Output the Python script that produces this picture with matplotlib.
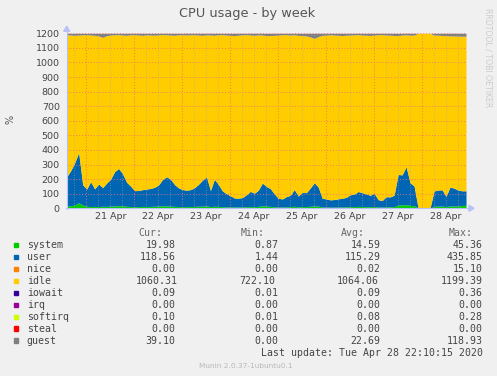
import numpy as np
import pandas as pd
import matplotlib
matplotlib.use("Agg")
import matplotlib.pyplot as plt
from matplotlib.patches import Rectangle, Polygon

# ---------------- data ----------------
start_time = "2020-04-20 14:10"
step = "2h"
TOTAL = 1200  # 12 cores x 100 %

user = [200, 240, 290, 345, 140, 118, 170, 120, 155, 128,
        160, 185, 235, 255, 220, 165, 140, 110, 110, 115,
        120, 123, 130, 145, 180, 200, 185, 150, 128, 118,
        112, 116, 128, 150, 178, 200, 110, 185, 150, 108,
        90, 76, 62, 60, 64, 82, 104, 92, 112, 155,
        135, 122, 88, 60, 55, 70, 78, 115, 74, 98,
        95, 125, 160, 130, 60, 55, 50, 52, 56, 60,
        65, 82, 85, 102, 95, 88, 78, 92, 50, 45,
        70, 68, 78, 210, 205, 260, 155, 135, 2, 2,
        2, 2, 105, 110, 112, 70, 130, 122, 110, 100]

system = [16, 18, 22, 38, 22, 14, 12, 13, 12, 14,
          13, 15, 16, 18, 17, 14, 12, 11, 12, 13,
          12, 13, 14, 15, 18, 16, 15, 13, 12, 11,
          12, 12, 13, 14, 15, 16, 12, 14, 13, 11,
          10, 10, 9, 9, 10, 11, 12, 11, 13, 18,
          15, 13, 11, 9, 9, 10, 11, 14, 10, 12,
          12, 14, 16, 15, 9, 9, 8, 8, 9, 9,
          10, 11, 12, 13, 12, 11, 11, 12, 9, 8,
          10, 10, 12, 22, 24, 25, 20, 18, 1, 1,
          1, 1, 14, 15, 15, 12, 16, 16, 15, 20]

guest = [10, 12, 14, 12, 10, 9, 12, 14, 18, 28,
         16, 12, 10, 9, 12, 14, 10, 9, 12, 14,
         10, 12, 13, 10, 9, 10, 12, 14, 10, 9,
         12, 10, 9, 12, 14, 10, 12, 13, 10, 9,
         12, 14, 16, 13, 10, 9, 12, 14, 10, 12,
         16, 15, 14, 12, 10, 9, 12, 10, 14, 16,
         18, 25, 35, 22, 14, 12, 10, 12, 14, 16,
         13, 12, 10, 9, 12, 13, 15, 12, 10, 9,
         12, 13, 15, 16, 12, 10, 13, 12, 0, 0,
         0, 0, 12, 13, 15, 16, 17, 18, 19, 20]

day_labels = ["21 Apr", "22 Apr", "23 Apr", "24 Apr", "25 Apr", "26 Apr", "27 Apr", "28 Apr"]
day_dates = ["2020-04-21", "2020-04-22", "2020-04-23", "2020-04-24",
             "2020-04-25", "2020-04-26", "2020-04-27", "2020-04-28"]

names = ["system", "user", "nice", "idle", "iowait", "irq", "softirq", "steal", "guest"]
colors = ["#00CC00", "#0066B3", "#FF8000", "#FFCC00", "#330099", "#990099", "#CCFF00", "#FF0000", "#808080"]
cur_vals = [19.98, 118.56, 0.00, 1060.31, 0.09, 0.00, 0.10, 0.00, 39.10]
min_vals = [0.87, 1.44, 0.00, 722.10, 0.01, 0.00, 0.01, 0.00, 0.00]
avg_vals = [14.59, 115.29, 0.02, 1064.06, 0.09, 0.00, 0.08, 0.00, 22.69]
max_vals = [45.36, 435.85, 15.10, 1199.39, 0.36, 0.00, 0.28, 0.00, 118.93]

title = "CPU usage - by week"
last_update = "Last update: Tue Apr 28 22:10:15 2020"
version = "Munin 2.0.37-1ubuntu0.1"

# ---------------- figure ----------------
W, H = 497, 376
BG = "#F0F0F0"
fig = plt.figure(figsize=(W / 100, H / 100), dpi=100, facecolor=BG)


def fx(x):
    return x / W


def fy(y):
    return 1 - y / H


ax_l, ax_r, ax_b, ax_t = 66.7, 466.0, 208.3, 33.3
ax = fig.add_axes([fx(ax_l), fy(ax_b), (ax_r - ax_l) / W, (ax_b - ax_t) / H])
ax.set_facecolor(BG)
for s in ax.spines.values():
    s.set_visible(False)

times = pd.date_range(start_time, periods=len(user), freq=step)
edges = times.append(pd.DatetimeIndex([times[-1] + pd.Timedelta(step)])).to_pydatetime()

u = np.array(user, float)
sy = np.array(system, float)
g = np.array(guest, float)
idle = TOTAL - u - sy - g

layers = [(sy, colors[0]), (u, colors[1]), (idle, colors[3]), (g, colors[8])]
base = np.zeros(len(u))
for vals, col in layers:
    top = base + vals
    ax.fill_between(edges, np.append(base, base[-1]), np.append(top, top[-1]),
                    color=col, lw=0, zorder=2)
    base = top

ax.set_xlim(edges[0], edges[-1])
ax.set_ylim(0, TOTAL)

# grid
for yv in range(100, TOTAL + 1, 100):
    ax.axhline(yv, color="#F07070", lw=0.7, ls=(0, (1, 2)), alpha=0.85, zorder=3)
t6 = pd.date_range("2020-04-20 18:00", edges[-1], freq="6h")
for t in t6:
    if t.hour == 0:
        ax.axvline(t.to_pydatetime(), color="#F07070", lw=0.7, ls=(0, (1, 2)), alpha=0.9, zorder=3)
    else:
        ax.axvline(t.to_pydatetime(), color="#B0A0A0", lw=0.6, ls=(0, (1, 2)), alpha=0.7, zorder=3)

ax.set_yticks(range(0, TOTAL + 1, 100))
ax.tick_params(axis="y", length=0, pad=5, labelsize=6.8, labelcolor="#444444")
noon = [pd.Timestamp(d + " 12:00").to_pydatetime() for d in day_dates]
ax.set_xticks(noon)
ax.set_xticklabels(day_labels)
ax.tick_params(axis="x", length=0, pad=3, labelsize=6.8, labelcolor="#444444")

# axis lines with arrows (figure coords)
axc = "#B8C0F8"
fig.add_artist(plt.Line2D([fx(ax_l - 1), fx(ax_r + 3)], [fy(ax_b), fy(ax_b)], color=axc, lw=0.8))
fig.add_artist(plt.Line2D([fx(ax_l), fx(ax_l)], [fy(ax_b + 1), fy(ax_t - 2)], color=axc, lw=0.8))
fig.add_artist(Polygon([[fx(ax_r + 3), fy(ax_b - 3)], [fx(ax_r + 3), fy(ax_b + 3)], [fx(ax_r + 8), fy(ax_b)]],
                       closed=True, color=axc, transform=fig.transFigure))
fig.add_artist(Polygon([[fx(ax_l - 3), fy(ax_t - 2)], [fx(ax_l + 3), fy(ax_t - 2)], [fx(ax_l), fy(ax_t - 7)]],
                       closed=True, color=axc, transform=fig.transFigure))

# titles / labels
fig.text(fx(247.5), fy(13.5), title, ha="center", va="center", fontsize=9.3, color="#555555")
fig.text(fx(10), fy(119), "%", ha="center", va="center", rotation=90, fontsize=7, color="#555555")
fig.text(fx(487.7), fy(58), "RRDTOOL / TOBI OETIKER", ha="center", va="center", rotation=270,
         fontsize=5.6, color="#CCCCCC")

# legend
mono = "DejaVu Sans Mono"
fs = 7.1
tc = "#444444"
hdr_y = 233
fig.text(fx(150), fy(hdr_y), "Cur:", ha="center", va="center", family=mono, fontsize=fs, color="#666666")
fig.text(fx(253), fy(hdr_y), "Min:", ha="center", va="center", family=mono, fontsize=fs, color="#666666")
fig.text(fx(353), fy(hdr_y), "Avg:", ha="center", va="center", family=mono, fontsize=fs, color="#666666")
fig.text(fx(460.5), fy(hdr_y), "Max:", ha="center", va="center", family=mono, fontsize=fs, color="#666666")

col_x = [175.7, 278.3, 380.7, 482.7]
for i, name in enumerate(names):
    y = 245 + i * 11.95
    fig.add_artist(Rectangle((fx(14), fy(y + 2.2)), 4.4 / W, 4.4 / H, color=colors[i],
                             transform=fig.transFigure))
    fig.text(fx(26.7), fy(y), name, ha="left", va="center", family=mono, fontsize=fs, color=tc)
    vals = [cur_vals[i], min_vals[i], avg_vals[i], max_vals[i]]
    offs = [0, 0, 0, 0]
    if name == "idle":
        offs = [1.6, -2.6, -1.7, 0]
    for cx, v, o in zip(col_x, vals, offs):
        fig.text(fx(cx + o), fy(y), f"{v:.2f}", ha="right", va="center", family=mono,
                 fontsize=fs, color=tc)

fig.text(fx(482.7), fy(352.7), last_update, ha="right", va="center", family=mono, fontsize=fs, color=tc)
fig.text(fx(245.5), fy(366), version, ha="center", va="center", fontsize=5.3, color="#B8B8B8")

fig.savefig("out.png", dpi=100, facecolor=BG)
